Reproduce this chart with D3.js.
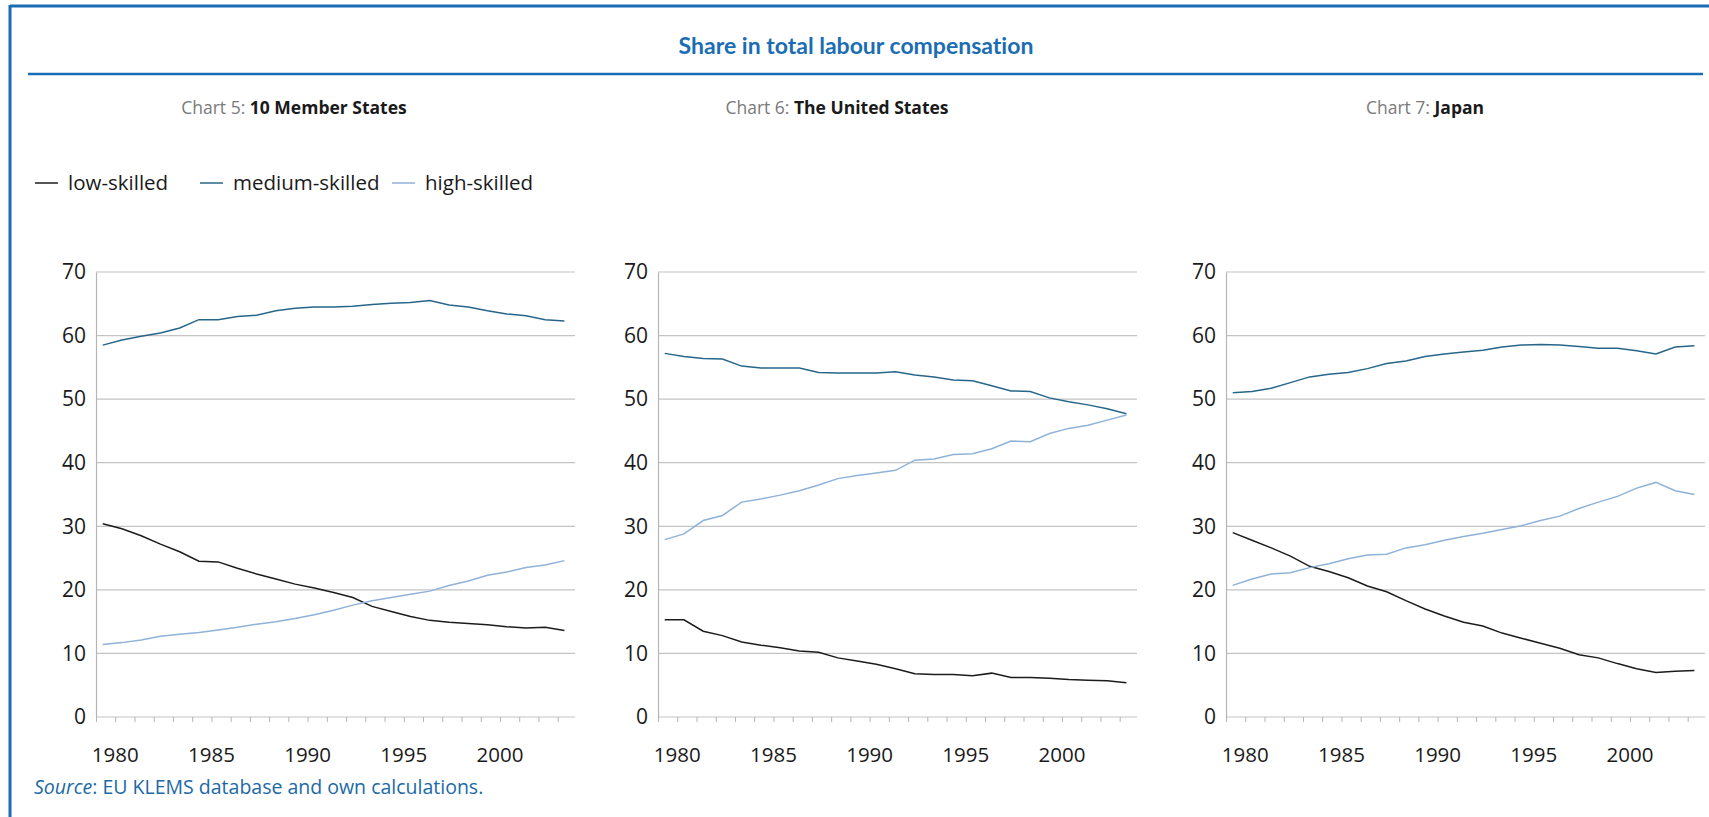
<!DOCTYPE html>
<html>
<head>
<meta charset="utf-8">
<script src="https://cdn.jsdelivr.net/npm/d3@7"></script>
<style>
  body { margin: 0; background: #fff; }
  svg { display: block; font-family: "Open Sans", "Noto Sans", sans-serif; }
</style>
</head>
<body>
<div id="chart"></div>
<script>
// years 1979-2003, one value per year
const years = d3.range(1979, 2004);
const xTickLabels = [1980, 1985, 1990, 1995, 2000];
const yTicks = [0, 10, 20, 30, 40, 50, 60, 70];
const seriesNames = ["low-skilled", "medium-skilled", "high-skilled"];
const panelTitles = [["Chart 5: ", "10 Member States"], ["Chart 6: ", "The United States"], ["Chart 7: ", "Japan"]];

// Chart 5: 10 Member States
const eu10Low    = [30.4, 29.6, 28.5, 27.2, 26.0, 24.5, 24.4, 23.4, 22.5, 21.7, 20.9, 20.3, 19.6, 18.8, 17.4, 16.6, 15.8, 15.2, 14.9, 14.7, 14.5, 14.2, 14.0, 14.1, 13.6];
const eu10Medium = [58.5, 59.3, 59.9, 60.4, 61.2, 62.5, 62.5, 63.0, 63.2, 63.9, 64.3, 64.5, 64.5, 64.6, 64.9, 65.1, 65.2, 65.5, 64.8, 64.5, 63.9, 63.4, 63.1, 62.5, 62.3];
const eu10High   = [11.4, 11.7, 12.1, 12.7, 13.0, 13.3, 13.7, 14.1, 14.6, 15.0, 15.5, 16.1, 16.8, 17.6, 18.3, 18.8, 19.3, 19.8, 20.7, 21.4, 22.3, 22.8, 23.5, 23.9, 24.6];

// Chart 6: The United States
const usLow    = [15.3, 15.3, 13.5, 12.8, 11.8, 11.3, 10.9, 10.4, 10.2, 9.3, 8.8, 8.3, 7.6, 6.8, 6.7, 6.7, 6.5, 6.9, 6.2, 6.2, 6.1, 5.9, 5.8, 5.7, 5.4];
const usMedium = [57.2, 56.7, 56.4, 56.3, 55.2, 54.9, 54.9, 54.9, 54.2, 54.1, 54.1, 54.1, 54.3, 53.8, 53.5, 53.0, 52.9, 52.1, 51.3, 51.2, 50.2, 49.6, 49.1, 48.5, 47.7];
const usHigh   = [27.9, 28.8, 30.9, 31.7, 33.8, 34.3, 34.9, 35.6, 36.5, 37.5, 38.0, 38.4, 38.8, 40.4, 40.6, 41.3, 41.4, 42.2, 43.4, 43.3, 44.6, 45.4, 45.9, 46.7, 47.5];

// Chart 7: Japan
const jpLow    = [29.0, 27.8, 26.6, 25.3, 23.7, 22.9, 21.9, 20.6, 19.7, 18.3, 17.0, 15.9, 14.9, 14.3, 13.2, 12.4, 11.6, 10.8, 9.8, 9.3, 8.4, 7.6, 7.0, 7.2, 7.3];
const jpMedium = [51.0, 51.2, 51.7, 52.6, 53.5, 53.9, 54.2, 54.8, 55.6, 56.0, 56.7, 57.1, 57.4, 57.7, 58.2, 58.5, 58.6, 58.5, 58.3, 58.0, 58.0, 57.6, 57.1, 58.2, 58.4];
const jpHigh   = [20.7, 21.7, 22.5, 22.7, 23.5, 24.1, 24.9, 25.5, 25.6, 26.6, 27.1, 27.8, 28.4, 28.9, 29.5, 30.1, 30.9, 31.6, 32.8, 33.8, 34.7, 36.0, 36.9, 35.6, 35.0];

const panels = [
  [eu10Low, eu10Medium, eu10High],
  [usLow, usMedium, usHigh],
  [jpLow, jpMedium, jpHigh]
];

const colors = ["#1c1c1c", "#27668a", "#8fb2d9"];
const blue = "#1b6db3";

const W = 1709, H = 817;
const svg = d3.select("#chart").append("svg")
  .attr("width", W).attr("height", H);

// frame
svg.append("line").attr("x1", 10).attr("x2", W).attr("y1", 6).attr("y2", 6)
  .attr("stroke", blue).attr("stroke-width", 3);
svg.append("line").attr("x1", 10).attr("x2", 10).attr("y1", 5).attr("y2", H)
  .attr("stroke", blue).attr("stroke-width", 3);

// title
svg.append("text")
  .attr("x", 856).attr("y", 54)
  .attr("text-anchor", "middle")
  .style("font-family", "Lato, 'Open Sans', sans-serif")
  .style("font-variant-ligatures", "none")
  .style("font-size", "23px").style("font-weight", "bold").style("fill", blue)
  .text("Share in total labour compensation");
svg.append("line").attr("x1", 28).attr("x2", 1703).attr("y1", 74).attr("y2", 74)
  .attr("stroke", blue).attr("stroke-width", 2.5);

// legend
const legendX = [35, 200, 392];
const legend = svg.append("g").attr("transform", "translate(0,183)");
seriesNames.forEach((name, i) => {
  legend.append("line")
    .attr("x1", legendX[i]).attr("x2", legendX[i] + 23)
    .attr("stroke", colors[i]).attr("stroke-width", 1.5);
  legend.append("text")
    .attr("x", legendX[i] + 33).attr("dy", "0.35em")
    .style("font-size", "20.5px").style("fill", "#1a1a1a")
    .text(name);
});

// source
const src = svg.append("text").attr("x", 34).attr("y", 794)
  .style("font-size", "19.5px").style("fill", "#1b69a6");
src.append("tspan").style("font-style", "italic").text("Source");
src.append("tspan").text(": EU KLEMS database and own calculations.");

const panelLeft = [96, 658, 1226];
const panelHeaderX = [294, 837, 1425];
const plotW = 479, plotTop = 272, plotBottom = 717;
const plotH = plotBottom - plotTop;

const x = d3.scaleLinear().domain([1979, 2003.9]).range([0, plotW]);
const y = d3.scaleLinear().domain([0, 70]).range([plotH, 0]);

panels.forEach((series, p) => {
  // header
  const hd = svg.append("text")
    .attr("x", panelHeaderX[p]).attr("y", 114)
    .attr("text-anchor", "middle")
    .style("font-size", "17.5px");
  hd.append("tspan").style("fill", "#7a7a7a").text(panelTitles[p][0]);
  hd.append("tspan").style("fill", "#1a1a1a").style("font-weight", "bold").text(panelTitles[p][1]);

  const g = svg.append("g").attr("transform", `translate(${panelLeft[p]},${plotTop})`);

  // grid
  g.selectAll(".grid").data(yTicks).enter().append("line")
    .attr("x1", 0).attr("x2", plotW)
    .attr("y1", d => y(d)).attr("y2", d => y(d))
    .attr("stroke", "#c4c4c4").attr("stroke-width", 1.2);

  // y axis
  const yAxis = g.append("g")
    .call(d3.axisLeft(y).tickValues(yTicks).tickSize(0).tickPadding(10));
  yAxis.select(".domain").attr("stroke", "#b5b5b5").attr("stroke-width", 1.2);
  yAxis.selectAll("text").style("font-size", "21px").style("fill", "#1a1a1a")
    .style("font-family", "'Open Sans', sans-serif");

  // x axis: a tick every year, labels every five years
  const xAxis = g.append("g")
    .attr("transform", `translate(0,${plotH})`)
    .call(d3.axisBottom(x).tickValues(years).tickSize(5).tickFormat(""));
  xAxis.select(".domain").remove();
  xAxis.selectAll("line").attr("stroke", "#b5b5b5");

  g.selectAll(".xlab").data(xTickLabels).enter().append("text")
    .attr("x", d => x(d)).attr("y", plotH + 45)
    .attr("text-anchor", "middle")
    .style("font-size", "20.5px").style("fill", "#1a1a1a")
    .text(d => d);

  // lines
  const line = d3.line()
    .x((d, i) => x(years[i] + 0.35))
    .y(d => y(d));
  series.forEach((vals, s) => {
    g.append("path")
      .datum(vals)
      .attr("d", line)
      .attr("fill", "none")
      .attr("stroke", colors[s])
      .attr("stroke-width", 1.5);
  });
});
</script>
</body>
</html>
